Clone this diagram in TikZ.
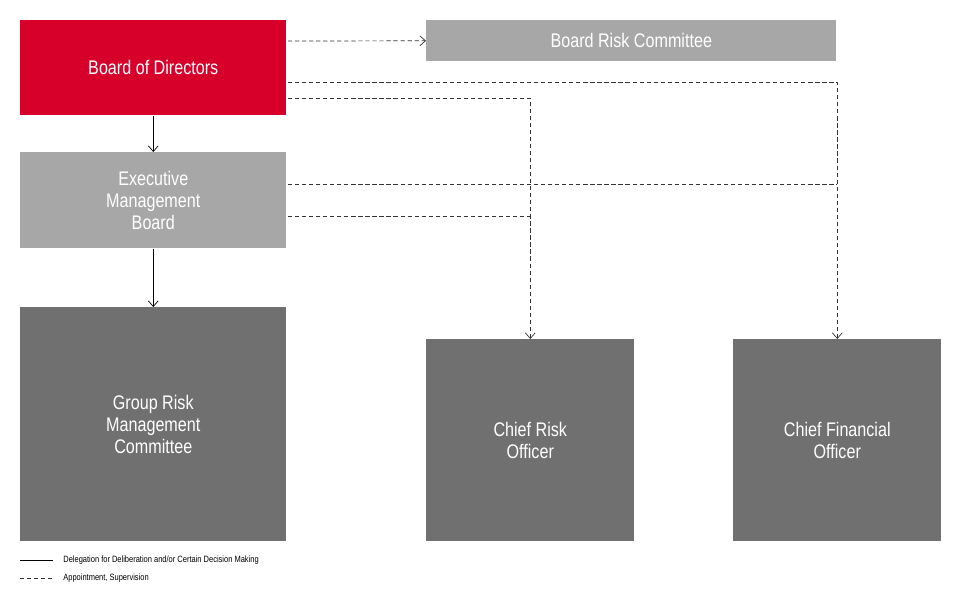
\documentclass[tikz,border=0pt]{standalone}
\usepackage{fontspec}
\setmainfont{Liberation Sans}[FakeStretch=0.82]
\usetikzlibrary{positioning}
\definecolor{bodred}{HTML}{D7002A}
\definecolor{lightgr}{HTML}{A7A7A7}
\definecolor{darkgr}{HTML}{707070}
\tikzset{
  box/.style={anchor=north west, inner sep=0pt, text=white, font=\fontsize{14}{15.5}\selectfont, align=center},
  dele/.style={draw=black, line width=0.5pt, -{Straight Barb[length=4pt,width=7pt]}},
  appt/.style={draw=black!80, line width=0.5pt, dash pattern=on 3pt off 2pt, -{Straight Barb[length=4pt,width=7pt]}},
  apline/.style={draw=black!80, line width=0.5pt, dash pattern=on 3pt off 2pt},
  legend/.style={anchor=west, font=\fontsize{6.5}{7}\selectfont, inner sep=0pt}
}
\usetikzlibrary{arrows.meta}
\begin{document}
\begin{tikzpicture}[x=0.025cm,y=-0.025cm]
\useasboundingbox (0,0) rectangle (960,608);
% boxes
\node[box, fill=bodred, minimum width=266*0.025cm, minimum height=95*0.025cm] (bod) at (20,20) {Board of Directors};
\node[box, fill=lightgr, minimum width=410*0.025cm, minimum height=41*0.025cm] (brc) at (426,20) {Board Risk Committee};
\node[box, fill=lightgr, minimum width=266*0.025cm, minimum height=96*0.025cm] (emb) at (20,152) {Executive\\Management\\Board};
\node[box, fill=darkgr, minimum width=266*0.025cm, minimum height=234*0.025cm] (grmc) at (20,307) {Group Risk\\Management\\Committee};
\node[box, fill=darkgr, minimum width=208*0.025cm, minimum height=202*0.025cm] (cro) at (426,339) {Chief Risk\\Officer};
\node[box, fill=darkgr, minimum width=208*0.025cm, minimum height=202*0.025cm] (cfo) at (733,339) {Chief Financial\\Officer};
% delegation
\draw[dele] (bod.south) -- (emb.north);
\draw[dele] (emb.south) -- (grmc.north);
% appointment, supervision
\coordinate (b1) at (288,41);
\coordinate (b2) at (288,82);
\coordinate (b3) at (288,98);
\coordinate (e1) at (288,184);
\coordinate (e2) at (288,216);
\draw[appt] (b1) -- (brc.west);
\draw[appt] (b2) -| (cfo.north);
\draw[appt] (b3) -| (cro.north);
\draw[apline] (e1) -- (cfo.north |- e1);
\draw[apline] (e2) -- (cro.north |- e2);
% legend
\coordinate (l1) at (20,560);
\coordinate (l2) at (20,578);
\draw[line width=0.5pt] (l1) -- ++(33,0) node[legend, right=10*0.025cm] (lt1) {Delegation for Deliberation and/or Certain Decision Making};
\draw[apline] (l2) -- ++(33,0) node[legend, right=10*0.025cm] (lt2) {Appointment, Supervision};
\end{tikzpicture}
\end{document}
